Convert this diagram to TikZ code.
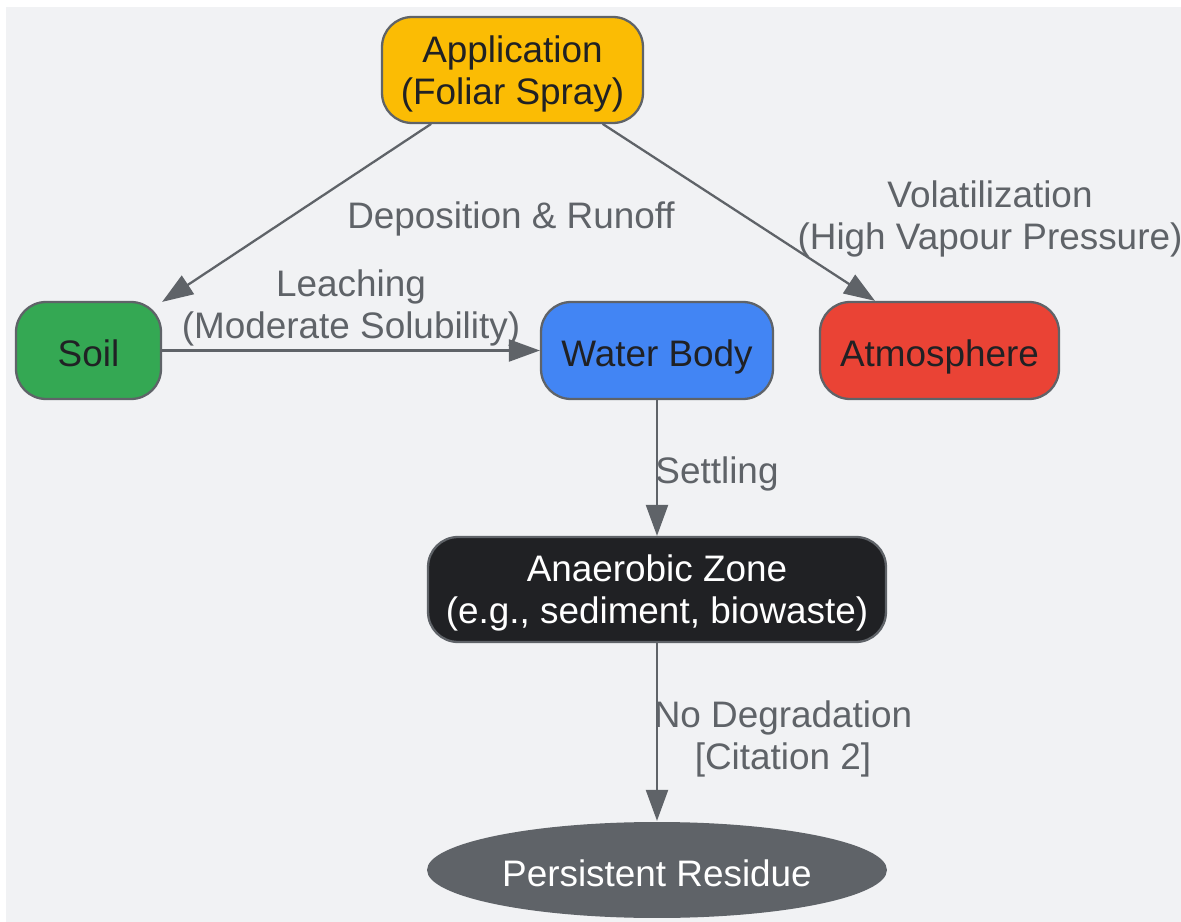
\documentclass[tikz,border=0pt]{standalone}
\usepackage{fontspec}
\setmainfont{Liberation Sans}
\usetikzlibrary{arrows.meta,shapes.geometric}
\definecolor{bggrey}{HTML}{F1F2F4}
\definecolor{linegrey}{HTML}{5F6368}
\definecolor{inkdark}{HTML}{202124}
\definecolor{appyellow}{HTML}{FBBC04}
\definecolor{soilgreen}{HTML}{34A853}
\definecolor{waterblue}{HTML}{4285F4}
\definecolor{airred}{HTML}{EA4335}
\begin{document}
\begin{tikzpicture}[x=0.02cm, y=-0.02cm, line join=round, line cap=round,
		>={Triangle[length=0.62cm,width=0.44cm]},
		every node/.style={font=\fontsize{21}{24}\selectfont, align=center},
		box/.style={draw=linegrey, line width=1.3pt, rounded corners=0.6cm, minimum height=1.94cm, text=inkdark, inner sep=0pt, text depth=0pt, execute at begin node={\rule{0pt}{18.5pt}}},
		flow/.style={->, draw=linegrey, fill=linegrey, line width=1.3pt},
		tag/.style={text=linegrey, inner sep=0pt}]
		\useasboundingbox (0,0) rectangle (1181,922);
		\fill[bggrey] (6,7) rectangle (1181,922);
		% compartments
		\node[box, fill=appyellow, minimum width=5.22cm, minimum height=2.12cm] (app) at (512.5,70) {Application\\(Foliar Spray)};
		\node[box, fill=soilgreen, minimum width=2.9cm] (soil) at (88.5,350.5) {Soil};
		\node[box, fill=waterblue, minimum width=4.64cm] (water) at (657,350.5) {Water Body};
		\node[box, fill=airred, minimum width=4.78cm] (air) at (939.5,350.5) {Atmosphere};
		\node[box, fill=inkdark, text=white, minimum width=9.16cm, minimum height=2.1cm] (anaer) at (657,589.5) {Anaerobic Zone\\(e.g., sediment, biowaste)};
		\node[box, ellipse, fill=linegrey, draw=none, text=white, minimum width=9.2cm, minimum height=1.92cm] (resid) at (657,870) {Persistent Residue};
		% pathways
		\draw[flow] (app) -- (soil);
		\draw[flow] ([xshift=1.81cm]app.south) -- ([xshift=-1.29cm]air.north);
		\draw[flow] (soil) -- (water);
		\draw[flow] (water) -- (anaer);
		\draw[flow] (anaer) -- (resid);
		% pathway labels
		\node[tag] (depo) at (511,219) {Deposition \& Runoff};
		\node[tag] (vola) at (990,219) {Volatilization\\(High Vapour Pressure)};
		\node[tag] (leach) at (351,308) {Leaching\\(Moderate Solubility)};
		\node[tag] (settle) at (717,474) {Settling};
		\node[tag] (nodeg) at (783,739) {No Degradation\\{}[Citation 2]};
	\end{tikzpicture}
\end{document}
